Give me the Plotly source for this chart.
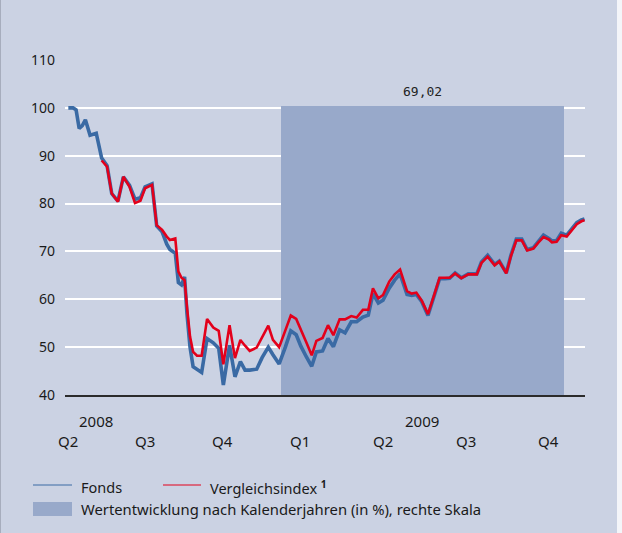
import plotly.graph_objects as go
import pandas as pd

# ---------------- data ----------------
base_date = pd.Timestamp("2008-04-01")

day_offsets = [0, 6, 10, 14, 18, 22, 28, 36, 43, 50, 56, 64, 71, 79, 86, 93, 99, 108,
               114, 121, 127, 131, 138, 142, 146, 150, 153, 157, 161, 166, 172, 179,
               187, 194, 200, 208, 215, 222, 228, 234, 243, 250, 258, 264, 272, 280,
               287, 294, 300, 307, 314, 320, 328, 335, 342, 350, 357, 365, 372, 380,
               387, 393, 400, 406, 414, 421, 428, 437, 443, 449, 456, 464, 472, 479,
               486, 492, 499, 507, 516, 522, 527, 533, 541, 550, 556, 565, 571, 578,
               585, 592, 600, 606, 613, 620, 624, 630, 636, 643, 649, 656, 662, 666]

fonds = [100.0, 100.0, 99.6, 95.7, 96.3, 97.5, 94.3, 94.7, 89.5, 87.9, 82.1, 80.5,
         85.6, 83.8, 80.9, 81.2, 83.5, 84.1, 75.3, 74.1, 71.5, 70.4, 69.6, 63.5,
         63.0, 64.7, 57.1, 50.0, 45.9, 45.4, 44.7, 51.8, 50.9, 49.75, 42.1, 50.4,
         43.8, 47.0, 45.2, 45.2, 45.4, 47.8, 50.0, 48.4, 46.5, 50.0, 53.4, 52.6,
         50.2, 48.0, 46.0, 49.0, 49.2, 51.8, 50.1, 53.6, 53.0, 55.3, 55.3, 56.3,
         56.7, 61.2, 59.2, 59.8, 62.3, 64.0, 65.3, 61.0, 60.8, 61.0, 59.5, 56.6,
         60.9, 64.3, 64.3, 64.4, 65.5, 64.5, 65.3, 65.3, 65.3, 67.8, 69.2, 67.3,
         68.0, 65.5, 69.2, 72.6, 72.6, 70.4, 70.8, 72.0, 73.4, 72.7, 72.2, 72.3,
         73.8, 73.4, 74.6, 76.0, 76.6, 76.8]

vergleichsindex = [None, None, None, None, None, None, None, None, 89.0, 87.7, 82.1, 80.4,
                   85.6, 83.5, 80.1, 80.6, 83.2, 83.9, 75.5, 74.5, 73.1, 72.4, 72.7, 65.8,
                   64.5, 64.0, 58.5, 52.2, 49.0, 48.2, 48.2, 55.9, 54.1, 53.4, 46.4, 54.6,
                   47.7, 51.5, 50.3, 49.2, 49.9, 52.2, 54.5, 51.5, 50.0, 53.5, 56.6, 55.9,
                   53.8, 51.0, 48.3, 51.3, 51.9, 54.6, 52.5, 55.8, 55.8, 56.5, 56.2, 57.8,
                   57.8, 62.3, 60.2, 60.9, 63.7, 65.2, 66.2, 61.7, 61.2, 61.4, 59.7, 56.9,
                   60.9, 64.5, 64.5, 64.5, 65.4, 64.4, 65.2, 65.2, 65.2, 67.6, 68.9, 67.1,
                   67.9, 65.4, 69.0, 72.3, 72.3, 70.2, 70.6, 71.8, 73.0, 72.5, 71.9, 72.0,
                   73.4, 73.1, 74.3, 75.7, 76.3, 76.5]

bar_year_start = "2009-01-01"
bar_year_end = "2009-12-31"
bar_value = 69.02
bar_label = "69,02"

quarter_labels = ["Q2", "Q3", "Q4", "Q1", "Q2", "Q3", "Q4"]
quarter_label_days = [-1, 98.5, 199.5, 299, 406, 513, 620]
year_labels = ["2008", "2009"]
year_label_days = [35.7, 456.2]

y_ticks = [40, 50, 60, 70, 80, 90, 100, 110]

# ---------------- build ----------------
dates = base_date + pd.to_timedelta(day_offsets, unit="D")
bs, be = pd.Timestamp(bar_year_start), pd.Timestamp(bar_year_end)
bar_center = bs + (be - bs) / 2
bar_width_ms = (be - bs).total_seconds() * 1000

BG = "#CBD2E3"
BAR = "#98A9CA"
BLUE = "#3A6AA4"
RED = "#E3001B"
FONT = "Noto Sans"
TXT = "#1a1a1a"

fig = go.Figure()

fig.add_trace(go.Bar(
    x=[bar_center], y=[bar_value], width=[bar_width_ms],
    marker=dict(color=BAR, line=dict(width=0)),
    yaxis="y", showlegend=False, hoverinfo="skip",
))
fig.add_trace(go.Scatter(
    x=dates, y=fonds, mode="lines", yaxis="y2", name="Fonds",
    line=dict(color=BLUE, width=3.6), showlegend=False,
))
fig.add_trace(go.Scatter(
    x=dates, y=vergleichsindex, mode="lines", yaxis="y2", name="Vergleichsindex",
    line=dict(color=RED, width=2.6), showlegend=False,
))

x_lo = base_date + pd.Timedelta(days=-4.3)
x_hi = base_date + pd.Timedelta(days=666.6)

annotations = []
annotations.append(dict(
    x=bar_center, y=bar_value, xref="x", yref="y", text=bar_label,
    showarrow=False, yanchor="bottom", yshift=5,
    font=dict(family="DejaVu Sans Mono", size=13, color="#222222"),
))
for lab, d in zip(quarter_labels, quarter_label_days):
    annotations.append(dict(
        x=base_date + pd.Timedelta(days=d), y=-0.1367, xref="x", yref="paper",
        text=lab, showarrow=False, yanchor="middle", xanchor="center",
        font=dict(family=FONT, size=15, color=TXT),
    ))
for lab, d in zip(year_labels, year_label_days):
    annotations.append(dict(
        x=base_date + pd.Timedelta(days=d), y=-0.0762, xref="x", yref="paper",
        text=lab, showarrow=False, yanchor="middle", xanchor="center",
        font=dict(family=FONT, size=15, color=TXT),
    ))

def px_x(px):
    return (px - 65) / 520.0

def px_y(py):
    return (395 - py) / 335.0

# legend
annotations += [
    dict(x=px_x(79), y=px_y(487), xref="paper", yref="paper", text="Fonds",
         showarrow=False, xanchor="left", yanchor="middle",
         font=dict(family=FONT, size=14.5, color=TXT)),
    dict(x=px_x(208), y=px_y(487), xref="paper", yref="paper",
         text="Vergleichsindex <b><sup>1</sup></b>",
         showarrow=False, xanchor="left", yanchor="middle",
         font=dict(family=FONT, size=14.5, color=TXT)),
    dict(x=px_x(79), y=px_y(509), xref="paper", yref="paper",
         text="Wertentwicklung nach Kalenderjahren (in %), rechte Skala",
         showarrow=False, xanchor="left", yanchor="middle",
         font=dict(family=FONT, size=14.8, color=TXT)),
    dict(x=px_x(6), y=px_y(-5), xref="paper", yref="paper",
         text="Referenzzeitraum: 02.06.2008 - 31.12.2009",
         showarrow=False, xanchor="left", yanchor="middle",
         font=dict(family=FONT, size=13.5, color="#111111")),
]

shapes = [
    dict(type="line", xref="paper", yref="paper", x0=px_x(33), x1=px_x(72),
         y0=px_y(485), y1=px_y(485), line=dict(color=BLUE, width=1)),
    dict(type="line", xref="paper", yref="paper", x0=px_x(163), x1=px_x(201),
         y0=px_y(485), y1=px_y(485), line=dict(color=RED, width=1)),
    dict(type="rect", xref="paper", yref="paper", x0=px_x(33), x1=px_x(72),
         y0=px_y(516), y1=px_y(502), line=dict(width=0), fillcolor=BAR),
    dict(type="rect", xref="paper", yref="paper", x0=px_x(617), x1=px_x(625),
         y0=px_y(540), y1=px_y(-10), line=dict(width=0), fillcolor="#F4F5F9"),
    dict(type="rect", xref="paper", yref="paper", x0=px_x(-2), x1=px_x(1),
         y0=px_y(540), y1=px_y(-10), line=dict(width=0), fillcolor="#A7ADBD"),
]

fig.update_layout(
    width=622, height=533,
    margin=dict(l=65, r=37, t=60, b=138),
    paper_bgcolor=BG, plot_bgcolor=BG,
    showlegend=False,
    bargap=0,
    xaxis=dict(type="date", range=[x_lo, x_hi], showgrid=False, showticklabels=False,
               ticks="", zeroline=False, showline=True, linecolor="#2b2b2b", linewidth=1.5,
               fixedrange=True),
    yaxis=dict(range=[0, 80], visible=False, showgrid=False, zeroline=False, fixedrange=True),
    yaxis2=dict(range=[40, 110], overlaying="y", side="left", tickvals=y_ticks,
                showgrid=True, gridcolor="#FFFFFF", gridwidth=1.5, zeroline=False,
                showline=False, ticks="", ticklabelstandoff=9,
                tickfont=dict(family=FONT, size=14, color=TXT), fixedrange=True),
    annotations=annotations,
    shapes=shapes,
)

fig.write_html("out.html", config={"displayModeBar": False},
               post_script="document.body.style.margin='0';")
